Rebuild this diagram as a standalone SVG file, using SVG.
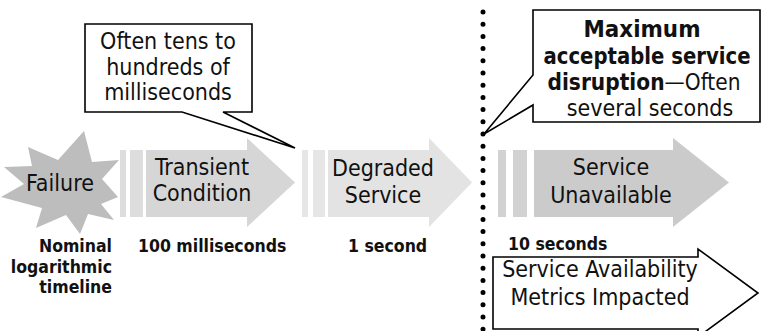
<svg xmlns="http://www.w3.org/2000/svg" width="762" height="331" viewBox="0 0 762 331">
<style>
text { font-family: 'DejaVu Sans Condensed', 'DejaVu Sans', sans-serif; fill: #111; }
.lbl { font-size: 23px; text-anchor: middle; }
.co { font-size: 23px; text-anchor: middle; }
.b { font-weight: bold; }
.small { font-size: 17.5px; font-weight: bold; }
.callout { fill: #fff; stroke: #000; stroke-width: 1.6; stroke-linejoin: miter; }
.t1 { fill: #d6d6d6; } .t1b { fill: #dddddd; }
.t2 { fill: #e3e3e3; } .t2b { fill: #e6e6e6; }
.t3 { fill: #cbcbcb; } .t3b { fill: #d2d2d2; }
</style>
<rect width="762" height="331" fill="#fff"/>

<g id="connectors">
  <line x1="483" y1="12" x2="483" y2="331" stroke="#000" stroke-width="5" stroke-linecap="round" stroke-dasharray="0 12.2"/>
</g>

<g id="failure">
  <path d="M84,131 L92,162 L119,160 L102,179 L118,197 L101,204 L114,220 L88,214 L80,234 L66,215 L36,228 L42,208 L1,197 L24,184 L4,167 L32,166 L28,147 L58,160 Z" fill="#bdbdbd"/>
  <text x="60" y="191" class="lbl">Failure</text>
</g>

<g id="transient">
  <rect x="120" y="150" width="6" height="67" class="t1b"/>
  <rect x="130" y="150" width="13" height="67" class="t1b"/>
  <polygon points="146,150 247,150 247,138 295,182.5 247,227 247,217 146,217" class="t1"/>
  <text x="202" y="175" class="lbl">Transient</text>
  <text x="202" y="201" class="lbl">Condition</text>
</g>

<g id="degraded">
  <rect x="302" y="150" width="6" height="67" class="t2b"/>
  <rect x="313" y="150" width="12" height="67" class="t2b"/>
  <polygon points="328,150 429,150 429,138 472,182.5 429,227 429,217 328,217" class="t2"/>
  <text x="383" y="176" class="lbl">Degraded</text>
  <text x="383" y="203" class="lbl">Service</text>
</g>

<g id="unavailable">
  <rect x="498" y="150" width="8" height="67" class="t3b"/>
  <rect x="513" y="150" width="14" height="67" class="t3b"/>
  <polygon points="534,150 673,150 673,138 729,182.5 673,227 673,217 534,217" class="t3"/>
  <text x="611" y="175" class="lbl">Service</text>
  <text x="611" y="203" class="lbl">Unavailable</text>
</g>

<g id="callout-ms">
  <path d="M85,24 H252 V112 H223 L295,148 L182,112 H85 Z" class="callout"/>
  <text x="168" y="49" class="co">Often tens to</text>
  <text x="168" y="75" class="co">hundreds of</text>
  <text x="168" y="100" class="co">milliseconds</text>
</g>

<g id="callout-max">
  <path d="M533,10 H760 V122 H533 V105 L484,134 L533,75 Z" class="callout"/>
  <text x="642" y="37" class="co b" textLength="117" lengthAdjust="spacingAndGlyphs">Maximum</text>
  <text x="647" y="64" class="co b" textLength="207" lengthAdjust="spacingAndGlyphs">acceptable service</text>
  <text x="644" y="90" class="co" textLength="193" lengthAdjust="spacingAndGlyphs"><tspan class="b">disruption</tspan>—Often</text>
  <text x="650" y="116" class="co">several seconds</text>
</g>

<g id="timeline-labels">
  <text x="112" y="252" class="small" text-anchor="end">Nominal</text>
  <text x="112" y="273" class="small" text-anchor="end">logarithmic</text>
  <text x="112" y="293" class="small" text-anchor="end">timeline</text>
  <text x="138" y="252" class="small">100 milliseconds</text>
  <text x="348" y="252" class="small">1 second</text>
  <text x="508" y="250" class="small">10 seconds</text>
</g>

<g id="metrics">
  <polygon points="493,257 698,257 698,249 758,293 698,337 698,329 493,329" fill="#fff" stroke="#000" stroke-width="1.6"/>
  <text x="600" y="277" class="lbl">Service Availability</text>
  <text x="600" y="305" class="lbl">Metrics Impacted</text>
</g>
</svg>
